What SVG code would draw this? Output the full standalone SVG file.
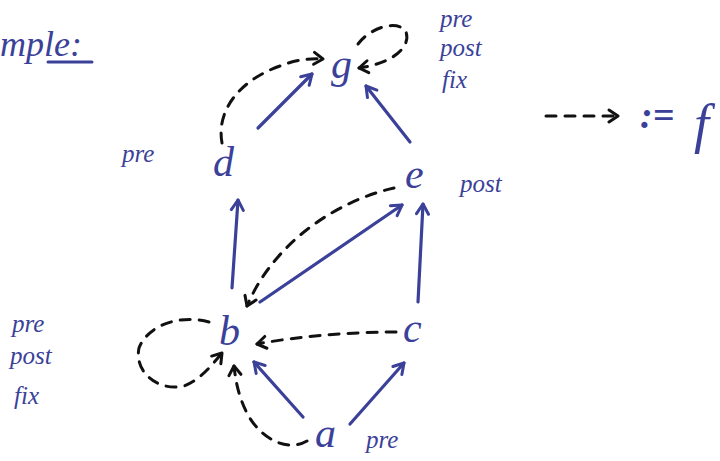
<svg xmlns="http://www.w3.org/2000/svg" width="720" height="461" viewBox="0 0 720 461">
  <style>
    .lbl { font-family: "Liberation Serif", "DejaVu Serif", serif; font-style: italic; fill: #3b4199; }
    .node { font-size: 42px; }
    .tag { font-size: 25px; }
    .solid { fill: none; stroke: #3b4199; stroke-width: 3.2; stroke-linecap: round; marker-end: url(#hb); }
    .dash { fill: none; stroke: #111; stroke-width: 3; stroke-linecap: round; stroke-dasharray: 10 9; marker-end: url(#hk); }
  </style>
  <defs>
    <marker id="hb" viewBox="-12 -8 14 16" refX="0" refY="0" markerWidth="14" markerHeight="16" markerUnits="userSpaceOnUse" orient="auto">
      <path d="M-10,-6 L0,0 L-10,6" fill="none" stroke="#3b4199" stroke-width="3" stroke-linecap="round" stroke-linejoin="round"/>
    </marker>
    <marker id="hk" viewBox="-12 -8 14 16" refX="0" refY="0" markerWidth="14" markerHeight="16" markerUnits="userSpaceOnUse" orient="auto">
      <path d="M-9,-6 L0,0 L-9,6" fill="none" stroke="#111" stroke-width="3" stroke-linecap="round" stroke-linejoin="round"/>
    </marker>
  </defs>
  <rect width="720" height="461" fill="#fff"/>

  <!-- heading -->
  <g id="heading">
    <text class="lbl" x="0" y="56" font-size="36">mple:</text>
    <line x1="48" y1="62" x2="92" y2="62" stroke="#3b4199" stroke-width="3" stroke-linecap="round"/>
  </g>

  <!-- legend: dashed arrow stands for f -->
  <g id="legend">
    <path class="dash" d="M546,116 L618,116" stroke-dasharray="4 8"/>
    <text class="lbl" x="640" y="128" font-size="38" font-weight="bold">:=</text>
    <text class="lbl" x="694" y="142" font-size="54">f</text>
  </g>

  <!-- connectors -->
  <g id="connectors">
    <!-- solid edges -->
    <path class="solid" d="M258,128 L312,74"/>
    <path class="solid" d="M410,142 L366,86"/>
    <path class="solid" d="M232,288 L238,200"/>
    <path class="solid" d="M418,302 L423,204"/>
    <path class="solid" d="M260,302 L402,205"/>
    <path class="solid" d="M303,417 L254,362"/>
    <path class="solid" d="M350,424 L404,363"/>
    <!-- dashed edges -->
    <path class="dash" d="M222,143 C216,110 240,80 280,66 C295,60 310,58 323,59"/>
    <path class="dash" d="M358,44 C370,28 395,20 405,30 C412,42 400,62 359,68"/>
    <path class="dash" d="M394,188 C340,200 275,240 247,306"/>
    <path class="dash" d="M396,332 C350,332 300,336 257,344"/>
    <path class="dash" d="M209,322 C180,314 148,325 139,348 C134,372 158,392 184,386 C200,380 212,365 222,353"/>
    <path class="dash" d="M307,441 C288,452 262,440 248,415 C240,400 236,385 234,366"/>
  </g>

  <!-- nodes -->
  <g id="node-g"><text class="lbl node" x="331" y="78">g</text></g>
  <g id="node-d"><text class="lbl node" x="213" y="176">d</text></g>
  <g id="node-e"><text class="lbl node" x="405" y="188">e</text></g>
  <g id="node-b"><text class="lbl node" x="219" y="345">b</text></g>
  <g id="node-c"><text class="lbl node" x="403" y="342">c</text></g>
  <g id="node-a"><text class="lbl node" x="315" y="447">a</text></g>

  <!-- annotations -->
  <g id="tags">
    <text class="lbl tag" x="440" y="27">pre</text>
    <text class="lbl tag" x="440" y="56">post</text>
    <text class="lbl tag" x="442" y="88">fix</text>
    <text class="lbl tag" x="122" y="162">pre</text>
    <text class="lbl tag" x="460" y="192">post</text>
    <text class="lbl tag" x="12" y="332">pre</text>
    <text class="lbl tag" x="10" y="364">post</text>
    <text class="lbl tag" x="14" y="404">fix</text>
    <text class="lbl tag" x="366" y="448">pre</text>
  </g>
</svg>
